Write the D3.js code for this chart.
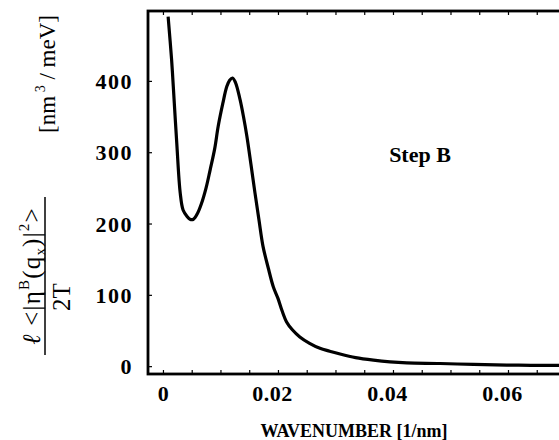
<!DOCTYPE html>
<html>
<head>
<meta charset="utf-8">
<script src="https://cdn.jsdelivr.net/npm/d3@7"></script>
<style>
  body { margin: 0; background: #fff; }
  svg { display: block; }
</style>
</head>
<body>
<div id="chart"></div>
<script>
// wavenumber [1/nm] and amplitude [nm^3/meV]
const wavenumber = [0.0009, 0.0015, 0.0018, 0.0024, 0.0030, 0.0035, 0.0042, 0.0047, 0.0053,
  0.0060, 0.0067, 0.0075, 0.0082, 0.0090, 0.0096, 0.0104, 0.0111, 0.0116, 0.0121, 0.0126,
  0.0134, 0.0140, 0.0146, 0.0153, 0.0160, 0.0167, 0.0174, 0.0183, 0.0192, 0.0200, 0.0207,
  0.0215, 0.0225, 0.0238, 0.0255, 0.0273, 0.0290, 0.0308, 0.0335, 0.0366, 0.0395, 0.0424,
  0.0482, 0.0540, 0.0598, 0.0640, 0.0700];
const amplitude = [490, 430, 392, 313, 243, 219, 210, 206, 206,
  214, 228, 250, 275, 305, 336, 368, 392, 401, 404, 398,
  374, 350, 322, 283, 243, 205, 168, 138, 111, 95, 78,
  62, 51, 41, 32, 25, 21, 17, 12, 8.4, 6, 4.6,
  3.7, 2.4, 1.5, 1.2, 1];

const xTicks = d3.range(0, 0.0701, 0.005);
const xLabels = [0, 0.02, 0.04, 0.06];
const yTicks = [0, 100, 200, 300, 400];

const width = 559, height = 440;
const svg = d3.select("#chart").append("svg")
  .attr("width", width).attr("height", height);

const x = d3.scaleLinear().domain([-0.0026, 0.07]).range([148, 565.5]);
const y = d3.scaleLinear().domain([-11, 498]).range([374, 11]);

const serif = "'Liberation Serif', 'Times New Roman', serif";

// frame
svg.append("rect")
  .attr("x", x.range()[0]).attr("y", y.range()[1])
  .attr("width", x.range()[1] - x.range()[0])
  .attr("height", y.range()[0] - y.range()[1])
  .attr("fill", "none").attr("stroke", "#000").attr("stroke-width", 2.8);

const isLabel = v => xLabels.some(l => Math.abs(l - v) < 1e-9);

// bottom axis
const xAxis = svg.append("g")
  .attr("transform", `translate(0,${y.range()[0]})`)
  .call(d3.axisBottom(x).tickValues(xTicks).tickSizeInner(-4).tickSizeOuter(0)
    .tickFormat(d => isLabel(d) ? (d === 0 ? "0" : d3.format(".2f")(d)) : ""));
xAxis.select(".domain").remove();
xAxis.selectAll("line").attr("stroke-width", 1.2);
xAxis.selectAll("text")
  .attr("y", 27).attr("dy", 0)
  .attr("dx", d => d === 0 ? 0 : -6)
  .style("font-family", serif).style("font-size", "22px").style("font-weight", "bold")
  .style("letter-spacing", "0.5px")
  .attr("fill", "#000");

// top ticks
const xTop = svg.append("g")
  .attr("transform", `translate(0,${y.range()[1]})`)
  .call(d3.axisTop(x).tickValues(xTicks).tickSizeInner(-4).tickSizeOuter(0).tickFormat(""));
xTop.select(".domain").remove();
xTop.selectAll("line").attr("stroke-width", 1.2);

// left axis
const yAxis = svg.append("g")
  .attr("transform", `translate(${x.range()[0]},0)`)
  .call(d3.axisLeft(y).tickValues(yTicks).tickSizeInner(-4).tickSizeOuter(0).tickFormat(d3.format("d")));
yAxis.select(".domain").remove();
yAxis.selectAll("line").attr("stroke-width", 1.2);
yAxis.selectAll("text")
  .attr("x", -15).attr("dy", "0.35em")
  .style("font-family", serif).style("font-size", "22px").style("font-weight", "bold")
  .style("letter-spacing", "1.5px")
  .attr("fill", "#000");

// curve
const line = d3.line()
  .x((d, i) => x(wavenumber[i]))
  .y(d => y(d))
  .curve(d3.curveCatmullRom);

svg.append("path")
  .datum(amplitude)
  .attr("d", line)
  .attr("fill", "none")
  .attr("stroke", "#000")
  .attr("stroke-width", 3.2);

// annotation
svg.append("text")
  .attr("x", 420).attr("y", 162)
  .attr("text-anchor", "middle")
  .style("font-family", serif).style("font-size", "22px").style("font-weight", "bold")
  .text("Step B");

// x label
svg.append("text")
  .attr("x", 354).attr("y", 437)
  .attr("text-anchor", "middle")
  .style("font-family", serif).style("font-size", "18px").style("font-weight", "bold")
  .text("WAVENUMBER [1/nm]");

// y label: fraction + units, rotated
const yl = svg.append("g")
  .style("font-family", serif).style("font-size", "25px");

const num = yl.append("text")
  .attr("transform", "translate(40,276) rotate(-90)")
  .attr("text-anchor", "middle")
  .style("letter-spacing", "1.2px");
num.append("tspan").style("font-style", "italic").text("ℓ");
num.append("tspan").text(" <|η");
num.append("tspan").attr("dy", -11).style("font-size", "15px").text("B");
num.append("tspan").attr("dy", 11).text("(q");
num.append("tspan").attr("dy", 5).style("font-size", "15px").text("x");
num.append("tspan").attr("dy", -5).text(")|");
num.append("tspan").attr("dy", -11).style("font-size", "15px").text("2");
num.append("tspan").attr("dy", 11).text(">");

yl.append("line")
  .attr("x1", 45).attr("x2", 45)
  .attr("y1", 197).attr("y2", 355)
  .attr("stroke", "#000").attr("stroke-width", 1.5);

yl.append("text")
  .attr("transform", "translate(70,297) rotate(-90)")
  .attr("text-anchor", "middle")
  .text("2T");

const units = yl.append("text")
  .attr("transform", "translate(55,74) rotate(-90)")
  .style("font-size", "23px")
  .attr("text-anchor", "middle");
units.append("tspan").text("[nm");
units.append("tspan").attr("dy", -10).style("font-size", "14px").text(" 3");
units.append("tspan").attr("dy", 10).text(" / meV]");
</script>
</body>
</html>
